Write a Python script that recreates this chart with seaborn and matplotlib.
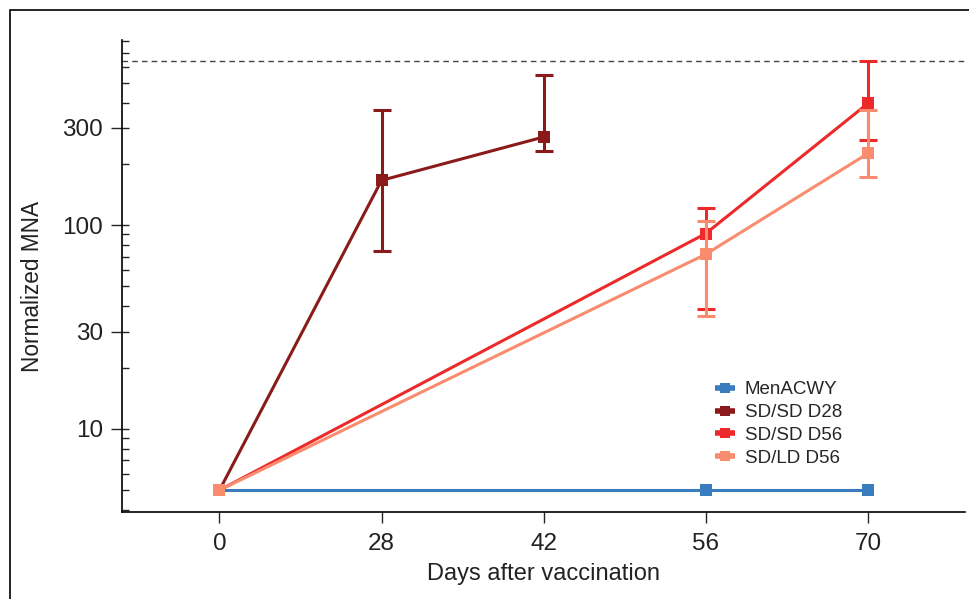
import numpy as np
import pandas as pd
import matplotlib
matplotlib.use("Agg")
import matplotlib.pyplot as plt
from matplotlib.ticker import FixedLocator, LogLocator, NullFormatter
from matplotlib.lines import Line2D
from matplotlib.patches import Rectangle
import seaborn as sns

# ==================== DATA ====================
DAY_LABELS = ['0', '28', '42', '56', '70']
GROUPS = ['MenACWY', 'SD/SD D28', 'SD/SD D56', 'SD/LD D56']
COLORS = ['#3a7dbf', '#8b1a1a', '#ec2a2a', '#f98c6f']

menacwy_days = ['0', '56', '70']
menacwy_mna = [5, 5, 5]

sdsd28_days = ['0', '28', '42']
sdsd28_mna = [5, 166, 271]
sdsd28_lo = [5, 75, 231]
sdsd28_hi = [5, 368, 545]

sdsd56_days = ['0', '56', '70']
sdsd56_mna = [5, 91, 396]
sdsd56_lo = [5, 38.7, 261]
sdsd56_hi = [5, 121, 637]

sdld56_days = ['0', '56', '70']
sdld56_mna = [5, 72, 225]
sdld56_lo = [5, 36, 172]
sdld56_hi = [5, 105, 366]

UPPER_LIMIT = 640

# ==================== TABLE ====================
series = [
    ('MenACWY', menacwy_days, menacwy_mna, None, None),
    ('SD/SD D28', sdsd28_days, sdsd28_mna, sdsd28_lo, sdsd28_hi),
    ('SD/SD D56', sdsd56_days, sdsd56_mna, sdsd56_lo, sdsd56_hi),
    ('SD/LD D56', sdld56_days, sdld56_mna, sdld56_lo, sdld56_hi),
]
rows = []
for name, days, vals, lo, hi in series:
    for i, d in enumerate(days):
        rows.append({'group': name, 'pos': DAY_LABELS.index(d), 'mna': vals[i],
                     'lo': lo[i] if lo else np.nan, 'hi': hi[i] if hi else np.nan})
df = pd.DataFrame(rows)

# ==================== PLOT ====================
sns.set_style('ticks')
plt.rcParams['font.family'] = ['Liberation Sans', 'DejaVu Sans']

fig = plt.figure(figsize=(9.7, 5.99), dpi=100)
ax = fig.add_axes([0.126, 0.145, 0.869, 0.788])

ax.axhline(UPPER_LIMIT, color='#444444', ls=(0, (4, 3)), lw=1.0, zorder=1)

sns.lineplot(data=df, x='pos', y='mna', hue='group', hue_order=GROUPS,
             palette=COLORS, marker='s', markersize=8, markeredgewidth=0,
             linewidth=2.2, errorbar=None, sort=False, legend=False, ax=ax)

for (name, days, vals, lo, hi), color in zip(series, COLORS):
    if lo is None:
        continue
    sub = df[(df['group'] == name) & (df['pos'] > 0)]
    ax.errorbar(sub['pos'], sub['mna'],
                yerr=[sub['mna'] - sub['lo'], sub['hi'] - sub['mna']],
                fmt='none', ecolor=color, elinewidth=2.2, capsize=6.3, capthick=2.2,
                zorder=3)

ax.set_yscale('log')
ax.set_ylim(3.9, 810)
ax.set_xlim(-0.6, 4.6)

ax.yaxis.set_major_locator(FixedLocator([10, 30, 100, 300]))
ax.set_yticklabels(['10', '30', '100', '300'])
ax.yaxis.set_minor_locator(LogLocator(base=10, subs=[1, 2, 3, 4, 5, 6, 7, 8, 9]))
ax.yaxis.set_minor_formatter(NullFormatter())
ax.yaxis.remove_overlapping_locs = False
ax.set_xticks(range(len(DAY_LABELS)))
ax.set_xticklabels(DAY_LABELS)

ax.tick_params(axis='both', which='major', direction='out', length=8, width=1,
               labelsize=17.5, labelcolor='#222222')
ax.tick_params(axis='y', which='major', pad=6)
ax.tick_params(axis='x', which='major', pad=7)
ax.tick_params(axis='y', which='minor', direction='in', length=5, width=1)

ax.set_xlabel('Days after vaccination', fontsize=17, color='#222222', labelpad=6)
ax.set_ylabel('Normalized MNA', fontsize=16.3, color='#222222')
ax.yaxis.set_label_coords(-0.0925, 0.479)

sns.despine(ax=ax)
for s in ['left', 'bottom']:
    ax.spines[s].set_linewidth(1.2)
    ax.spines[s].set_color('black')

handles = [Line2D([0], [0], color=c, marker='s', lw=4, markersize=7.5, markeredgewidth=0,
                  solid_capstyle='butt')
           for c in COLORS]
ax.legend(handles, GROUPS, loc='upper left', bbox_to_anchor=(0.6875, 0.305),
          frameon=False, fontsize=13.5, handlelength=1.1, handletextpad=0.5,
          labelspacing=0.3, borderpad=0.2)

# outer frame of the panel
fig.patches.append(Rectangle((10 / 970, -0.05), 1.2, 1 - 10 / 599 + 0.05,
                             transform=fig.transFigure, fill=False,
                             edgecolor='black', lw=1.2))

plt.savefig('out.png', dpi=100)
